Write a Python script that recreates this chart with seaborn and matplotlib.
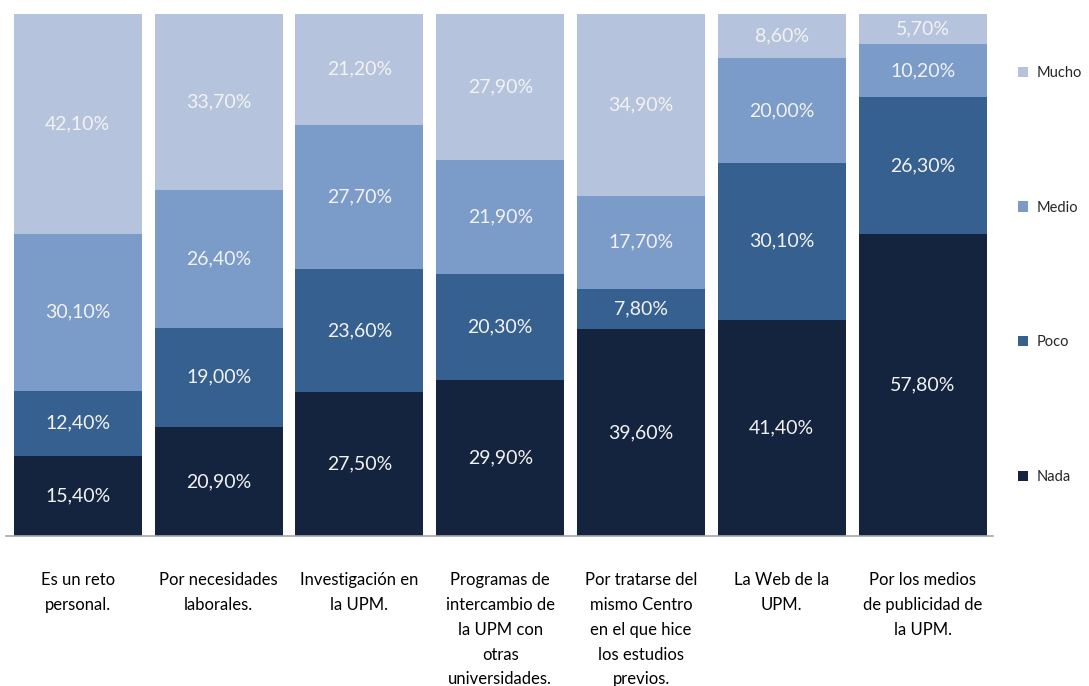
import matplotlib
matplotlib.use("Agg")
import matplotlib.pyplot as plt
import seaborn as sns
import pandas as pd

categories = [
    "Es un reto\npersonal.",
    "Por necesidades\nlaborales.",
    "Investigación en\nla UPM.",
    "Programas de\nintercambio de\nla UPM con\notras\nuniversidades.",
    "Por tratarse del\nmismo Centro\nen el que hice\nlos estudios\nprevios.",
    "La Web de la\nUPM.",
    "Por los medios\nde publicidad de\nla UPM.",
]
nada = [15.4, 20.9, 27.5, 29.9, 39.6, 41.4, 57.8]
poco = [12.4, 19.0, 23.6, 20.3, 7.8, 30.1, 26.3]
medio = [30.1, 26.4, 27.7, 21.9, 17.7, 20.0, 10.2]
mucho = [42.1, 33.7, 21.2, 27.9, 34.9, 8.6, 5.7]
levels = ["Mucho", "Medio", "Poco", "Nada"]
series = {"Nada": nada, "Poco": poco, "Medio": medio, "Mucho": mucho}
colors = {"Mucho": "#b5c3dc", "Medio": "#7b9bc8", "Poco": "#36608f", "Nada": "#14243f"}

rows = []
for lvl in ["Nada", "Poco", "Medio", "Mucho"]:
    for c, v in zip(categories, series[lvl]):
        rows.append({"cat": c, "nivel": lvl, "val": v})
df = pd.DataFrame(rows)

sns.set_theme(style="white")
plt.rcParams["font.family"] = ["Lato", "DejaVu Sans"]

fig = plt.figure(figsize=(10.89, 6.86), dpi=100)
ax = fig.add_axes([6 / 1089, (686 - 536) / 686, (993 - 6) / 1089, (536 - 14) / 686])

sns.histplot(data=df, x="cat", weights="val", hue="nivel", hue_order=levels,
             multiple="stack", discrete=True, shrink=0.91, palette=colors,
             alpha=1, linewidth=0, ax=ax, legend=True)

fmt = lambda v: (f"{v:.2f}".replace(".", ",") + "%")
for cont in ax.containers:
    ax.bar_label(cont, fmt=fmt, label_type="center", color="#f2f2f2", fontsize=14)

ax.set_xlim(-0.51, 6.5)
ax.set_ylim(0, 100)
ax.set_xlabel("")
ax.set_ylabel("")
ax.set_yticks([])
for s in ["top", "left", "right"]:
    ax.spines[s].set_visible(False)
ax.spines["bottom"].set_color("#a6a6a6")
ax.spines["bottom"].set_linewidth(1.2)
ax.tick_params(axis="x", length=0, pad=26, labelsize=12, colors="#000000")
for lab in ax.get_xticklabels():
    lab.set_linespacing(1.68)
    lab.set_verticalalignment("top")

sns.move_legend(ax, loc="upper left", bbox_to_anchor=(1012 / 1089, 1 - 60 / 686),
                bbox_transform=fig.transFigure, frameon=False, title=None,
                fontsize=10.5, labelspacing=8.28, handlelength=0.7, handleheight=0.7,
                handletextpad=0.6, borderaxespad=0)

fig.savefig("out.png", dpi=100)
